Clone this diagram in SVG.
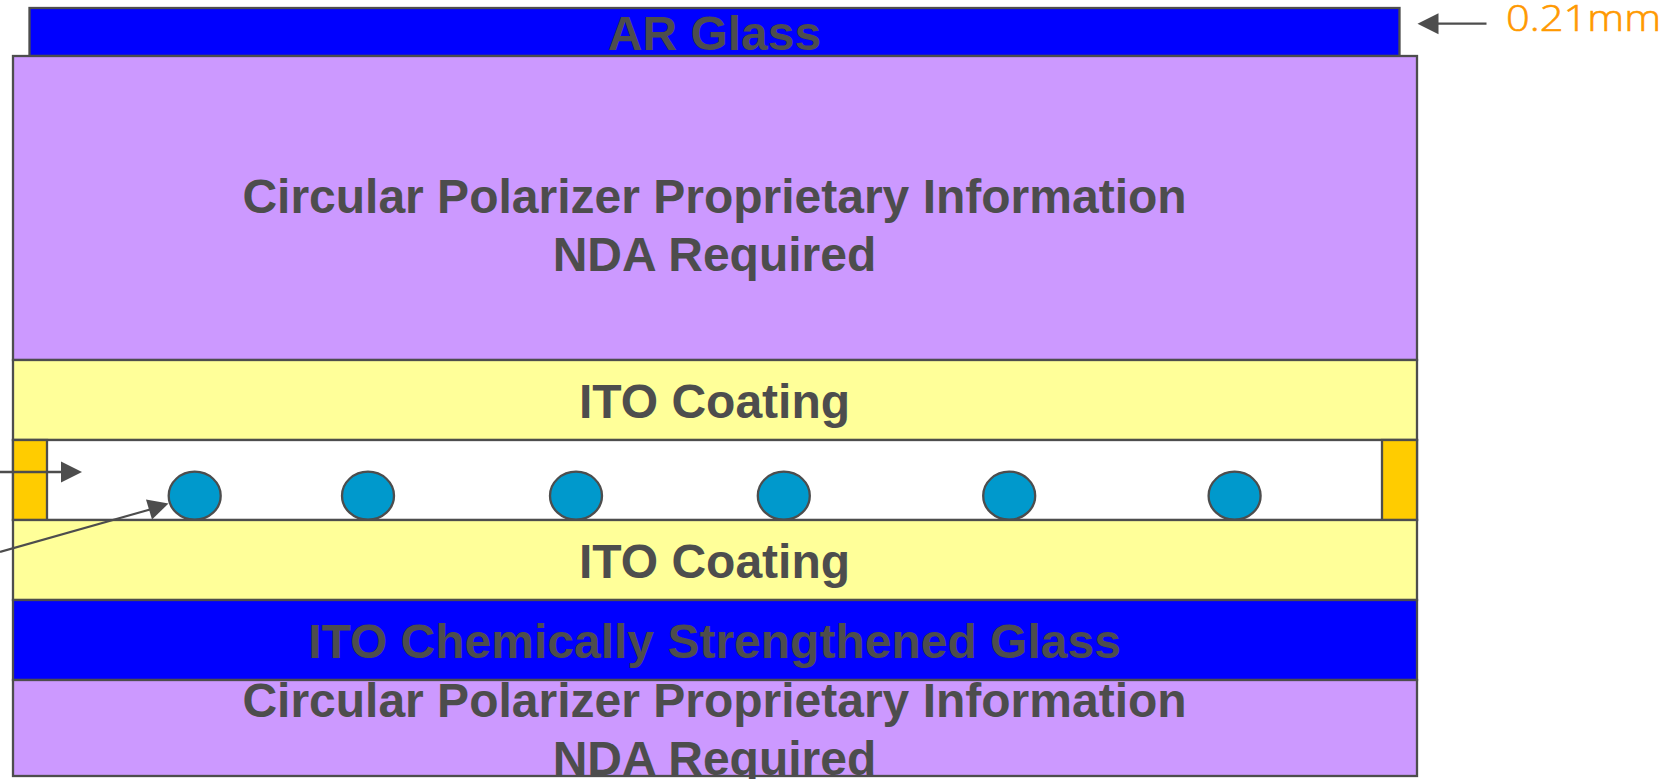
<svg xmlns="http://www.w3.org/2000/svg" width="1677" height="779" viewBox="0 0 1677 779">
<style>
.s{stroke:#4d4d4d;stroke-width:2.3}
.glass{fill:#0000ff}.pol{fill:#cc99ff}.ito{fill:#ffff99}.seal{fill:#ffcc00}.ball{fill:#0099cc}
text{font-family:"Liberation Sans",Arial,sans-serif;font-weight:700;font-size:48px;fill:#4d4d4d;text-anchor:middle}
.dim{font-family:"Open Sans","Noto Sans",sans-serif;font-weight:300;font-size:36px;fill:#ff9900;stroke:#ff9900;stroke-width:.6;text-anchor:start}
.ln{stroke:#4d4d4d;stroke-width:2.3;fill:none}
.hd{fill:#4d4d4d}
</style>
<rect width="1677" height="779" fill="#fff"/>
<g id="ar-glass"><rect class="s glass" x="29.5" y="8" width="1370" height="48"/><text x="714.5" y="50">AR Glass</text></g>
<g id="polarizer-top"><rect class="s pol" x="13" y="56" width="1404" height="304"/><text x="714.5" y="213">Circular Polarizer Proprietary Information</text><text x="714.5" y="271">NDA Required</text></g>
<g id="ito-top"><rect class="s ito" x="13" y="360" width="1404" height="80"/><text x="714.5" y="418">ITO Coating</text></g>
<g id="gap"><rect class="s" fill="#fff" x="13" y="440" width="1404" height="80"/></g>
<g id="seal-left"><rect class="s seal" x="13" y="440" width="34" height="80"/></g>
<g id="seal-right"><rect class="s seal" x="1382" y="440" width="35" height="80"/></g>
<g id="spacer-1"><ellipse class="s ball" cx="194.7" cy="495.7" rx="26" ry="24"/></g>
<g id="spacer-2"><ellipse class="s ball" cx="368" cy="495.7" rx="26" ry="24"/></g>
<g id="spacer-3"><ellipse class="s ball" cx="576" cy="495.7" rx="26" ry="24"/></g>
<g id="spacer-4"><ellipse class="s ball" cx="783.8" cy="495.7" rx="26" ry="24"/></g>
<g id="spacer-5"><ellipse class="s ball" cx="1009.2" cy="495.7" rx="26" ry="24"/></g>
<g id="spacer-6"><ellipse class="s ball" cx="1234.6" cy="495.7" rx="26" ry="24"/></g>
<g id="ito-bottom"><rect class="s ito" x="13" y="520" width="1404" height="80"/><text x="714.5" y="578">ITO Coating</text></g>
<g id="glass-bottom"><rect class="s glass" x="13" y="600" width="1404" height="80"/><text x="714.5" y="658">ITO Chemically Strengthened Glass</text></g>
<g id="polarizer-bottom"><rect class="s pol" x="13" y="680" width="1404" height="96"/><text x="714.5" y="717">Circular Polarizer Proprietary Information</text><text x="714.5" y="775">NDA Required</text></g>
<g id="dimension"><text class="dim" x="1506" y="31" textLength="155" lengthAdjust="spacingAndGlyphs">0.21mm</text></g>
<g id="connectors">
<line class="ln" x1="0" y1="472" x2="62" y2="472"/><polygon class="hd" points="82,472 61,461.5 61,482.5"/>
<line class="ln" x1="0" y1="552" x2="150" y2="509.5"/><polygon class="hd" points="168.5,503.5 146,499.5 152,519.5"/>
<line class="ln" x1="1486.5" y1="23.7" x2="1437" y2="23.7"/><polygon class="hd" points="1417.5,23.7 1438.5,13.2 1438.5,34.2"/>
</g>
</svg>
